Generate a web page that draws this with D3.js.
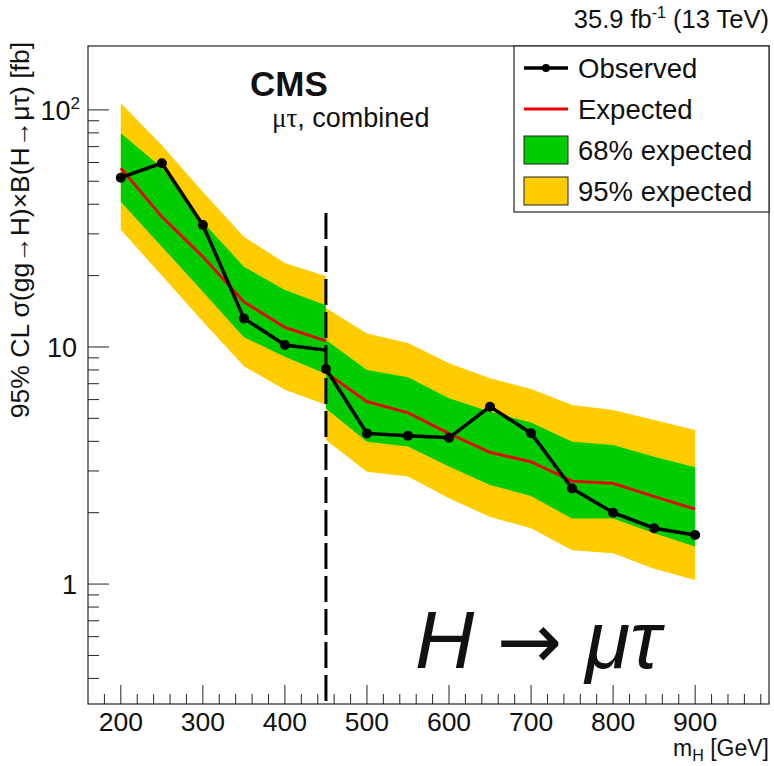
<!DOCTYPE html>
<html>
<head>
<title>H to mu tau limits | D3</title>
<script src="https://d3js.org/d3.v7.min.js" charset="utf-8"></script>
<style>
body {
    margin: 0;
    background: white;
}
text {
    font-family: "Liberation Sans", Arial, sans-serif;
    fill: #111;
}
</style>
</head>
<body>
<script>
// low mass analysis (200-450 GeV) and high mass analysis (450-900 GeV)
var massLow = [200, 250, 300, 350, 400, 450];
var obsLow = [51.8, 59.6, 32.7, 13.2, 10.2, 9.7];
var expLow = [56.8, 35.4, 24.0, 15.5, 12.1, 10.6];
var in68Low = [41.0, 26.5, 17.1, 11.0, 9.1, 7.7];
var up68Low = [79.7, 57.0, 33.7, 21.8, 17.4, 15.0];
var in95Low = [31.2, 20.0, 12.8, 8.3, 6.6, 5.7];
var up95Low = [106.7, 71.0, 45.0, 29.2, 22.6, 19.9];

var massHigh = [450, 500, 550, 600, 650, 700, 750, 800, 850, 900];
var obsHigh = [8.08, 4.32, 4.22, 4.14, 5.60, 4.33, 2.53, 2.0, 1.72, 1.61];
var expHigh = [7.8, 5.88, 5.28, 4.32, 3.59, 3.28, 2.72, 2.66, 2.34, 2.07];
var in68High = [5.5, 3.98, 3.80, 3.13, 2.62, 2.35, 1.89, 1.89, 1.64, 1.44];
var up68High = [10.7, 8.0, 7.45, 6.08, 5.33, 4.8, 3.98, 3.86, 3.44, 3.11];
var in95High = [4.05, 2.98, 2.84, 2.30, 1.92, 1.72, 1.39, 1.35, 1.16, 1.04];
var up95High = [14.6, 11.4, 10.4, 8.53, 7.38, 6.65, 5.69, 5.42, 4.92, 4.46];

var xTicks = [200, 300, 400, 500, 600, 700, 800, 900];
var yTicks = [1, 10, 100];
var yTickLabels = [["1", ""], ["10", ""], ["10", "2"]];
var splitMass = 450;
var splitTop = 36.7;

var legendNames = ["Observed", "Expected", "68% expected", "95% expected"];

var width = 774;
var height = 766;
// plot frame (note: "top" is reserved on window, so use frame* names)
var frameL = 88, frameR = 769, frameT = 46, frameB = 704;

var svg = d3.select("body")
    .append("svg")
    .attr("width", width)
    .attr("height", height);

var x = d3.scaleLinear().domain([160, 990]).range([frameL, frameR]);
var y = d3.scaleLog().domain([0.312, 186]).range([frameB, frameT]);

var yellow = "#ffcc00";
var green = "#00cc00";
var red = "#ee0000";

function band(mass, lo, hi) {
    return d3.area()
        .x(function(d, i) { return x(mass[i]); })
        .y0(function(d, i) { return y(lo[i]); })
        .y1(function(d, i) { return y(hi[i]); })(mass);
}
function curve(mass, vals) {
    return d3.line()
        .x(function(d, i) { return x(mass[i]); })
        .y(function(d, i) { return y(vals[i]); })(mass);
}

var g = svg.append("g");

// bands
g.append("path").attr("d", band(massLow, in95Low, up95Low)).attr("fill", yellow);
g.append("path").attr("d", band(massHigh, in95High, up95High)).attr("fill", yellow);
g.append("path").attr("d", band(massLow, in68Low, up68Low)).attr("fill", green);
g.append("path").attr("d", band(massHigh, in68High, up68High)).attr("fill", green);

// boundary between the two analyses
g.append("line")
    .attr("x1", x(splitMass)).attr("x2", x(splitMass))
    .attr("y1", y(splitTop)).attr("y2", frameB)
    .attr("stroke", "black")
    .attr("stroke-width", 3)
    .attr("stroke-dasharray", "26,7");

// expected
g.append("path").attr("d", curve(massLow, expLow))
    .attr("fill", "none").attr("stroke", red).attr("stroke-width", 2.8);
g.append("path").attr("d", curve(massHigh, expHigh))
    .attr("fill", "none").attr("stroke", red).attr("stroke-width", 2.8);

// observed
g.append("path").attr("d", curve(massLow, obsLow))
    .attr("fill", "none").attr("stroke", "black").attr("stroke-width", 3.5);
g.append("path").attr("d", curve(massHigh, obsHigh))
    .attr("fill", "none").attr("stroke", "black").attr("stroke-width", 3.5);

g.selectAll("circle.low")
    .data(massLow.slice(0, massLow.length - 1))
    .enter()
    .append("circle")
    .attr("cx", function(d) { return x(d); })
    .attr("cy", function(d, i) { return y(obsLow[i]); })
    .attr("r", 5)
    .attr("fill", "black");
g.selectAll("circle.high")
    .data(massHigh)
    .enter()
    .append("circle")
    .attr("cx", function(d) { return x(d); })
    .attr("cy", function(d, i) { return y(obsHigh[i]); })
    .attr("r", 5)
    .attr("fill", "black");

// axes ticks, drawn inward like ROOT
var ax = svg.append("g");
var xMinor = d3.range(180, 990, 20);
ax.selectAll("line.xt")
    .data(xMinor)
    .enter()
    .append("line")
    .attr("x1", function(d) { return x(d); })
    .attr("x2", function(d) { return x(d); })
    .attr("y1", frameB)
    .attr("y2", function(d) { return d % 100 == 0 ? frameB - 19 : frameB - 10; })
    .attr("stroke", "#222")
    .attr("stroke-width", 1);
ax.selectAll("text.xl")
    .data(xTicks)
    .enter()
    .append("text")
    .attr("x", function(d) { return x(d); })
    .attr("y", 731)
    .attr("text-anchor", "middle")
    .attr("font-size", 26.5)
    .text(function(d) { return d; });

var yMinor = [];
[0.1, 1, 10, 100].forEach(function(dec) {
    for (var k = 1; k < 10; k++) {
        var v = dec * k;
        if (v > 0.312 && v < 186) yMinor.push(v);
    }
});
ax.selectAll("line.yt")
    .data(yMinor)
    .enter()
    .append("line")
    .attr("x1", frameL)
    .attr("x2", function(d) { return yTicks.indexOf(d) >= 0 ? frameL + 21 : frameL + 11; })
    .attr("y1", function(d) { return y(d); })
    .attr("y2", function(d) { return y(d); })
    .attr("stroke", "#222")
    .attr("stroke-width", 1);
var yl = ax.selectAll("text.yl")
    .data(yTicks)
    .enter()
    .append("text")
    .attr("x", function(d, i) { return i == 2 ? 80 : 77; })
    .attr("y", function(d) { return y(d) + 10; })
    .attr("text-anchor", "end")
    .attr("font-size", 27);
yl.append("tspan").text(function(d, i) { return yTickLabels[i][0]; });
yl.append("tspan").attr("dy", -11).attr("font-size", 17)
    .text(function(d, i) { return yTickLabels[i][1]; });

// frame
svg.append("rect")
    .attr("x", frameL).attr("y", frameT)
    .attr("width", frameR - frameL).attr("height", frameB - frameT)
    .attr("fill", "none").attr("stroke", "#222").attr("stroke-width", 1.2);

// axis titles
var xt = svg.append("text")
    .attr("x", frameR).attr("y", 756)
    .attr("text-anchor", "end")
    .attr("font-size", 23);
xt.append("tspan").text("m");
xt.append("tspan").attr("dy", 5).attr("font-size", 16).text("H");
xt.append("tspan").attr("dy", -5).text(" [GeV]");

svg.append("text")
    .attr("transform", "translate(29,42) rotate(-90)")
    .attr("text-anchor", "end")
    .attr("font-size", 26.5)
    .text("95% CL \u03c3(gg\u2192H)\u00d7B(H\u2192\u03bc\u03c4) [fb]");

// lumi label
var lumi = svg.append("text")
    .attr("x", frameR).attr("y", 28)
    .attr("text-anchor", "end")
    .attr("font-size", 25.5);
lumi.append("tspan").text("35.9 fb");
lumi.append("tspan").attr("dy", -10).attr("font-size", 16).text("-1");
lumi.append("tspan").attr("dy", 10).text(" (13 TeV)");

svg.append("text")
    .attr("x", 250).attr("y", 96)
    .attr("font-size", 35)
    .attr("font-weight", "bold")
    .text("CMS");
var sub = svg.append("text")
    .attr("x", 272).attr("y", 127)
    .attr("font-size", 27);
sub.append("tspan").attr("font-family", "Liberation Serif, serif").text("\u03bc\u03c4");
sub.append("tspan").text(", combined");

var big = svg.append("text")
    .attr("x", 415).attr("y", 668)
    .attr("font-family", "Liberation Serif, serif")
    .attr("font-style", "italic")
    .attr("font-size", 82);
big.append("tspan").text("H ");
big.append("tspan").attr("font-family", "DejaVu Sans, sans-serif")
    .attr("font-style", "normal").attr("font-size", 78).text("\u2192");
big.append("tspan").text(" \u03bc\u03c4");

// legend
var lg = svg.append("g");
lg.append("rect")
    .attr("x", 514).attr("y", frameT)
    .attr("width", frameR - 514).attr("height", 212 - frameT)
    .attr("fill", "white").attr("stroke", "#222").attr("stroke-width", 1.2);
var rowY = d3.scalePoint().domain(legendNames).range([68, 191]);
lg.append("line").attr("x1", 524).attr("x2", 568)
    .attr("y1", rowY("Observed")).attr("y2", rowY("Observed"))
    .attr("stroke", "black").attr("stroke-width", 3.5);
lg.append("circle").attr("cx", 546).attr("cy", rowY("Observed")).attr("r", 4).attr("fill", "black");
lg.append("line").attr("x1", 524).attr("x2", 568)
    .attr("y1", rowY("Expected")).attr("y2", rowY("Expected"))
    .attr("stroke", red).attr("stroke-width", 2.8);
lg.append("rect").attr("x", 524).attr("y", rowY("68% expected") - 14)
    .attr("width", 44).attr("height", 28)
    .attr("fill", green).attr("stroke", "#222").attr("stroke-width", 1);
lg.append("rect").attr("x", 524).attr("y", rowY("95% expected") - 14)
    .attr("width", 44).attr("height", 28)
    .attr("fill", yellow).attr("stroke", "#222").attr("stroke-width", 1);
lg.selectAll("text.lt")
    .data(legendNames)
    .enter()
    .append("text")
    .attr("x", 578)
    .attr("y", function(d) { return rowY(d) + 10; })
    .attr("font-size", 27.5)
    .text(function(d) { return d; });
</script>
</body>
</html>
